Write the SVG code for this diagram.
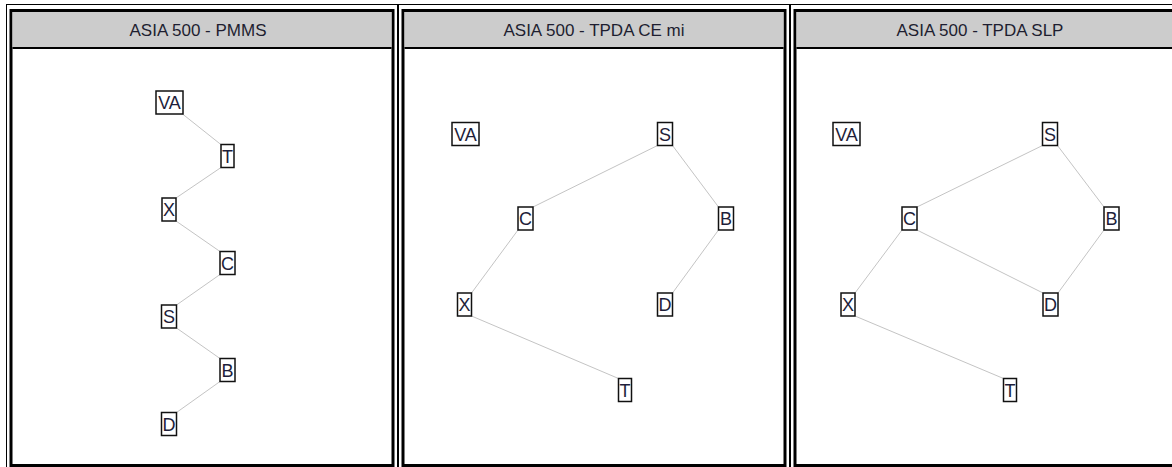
<svg xmlns="http://www.w3.org/2000/svg" width="1172" height="467" viewBox="0 0 1172 467">
<style>
.outer{fill:none;stroke:#000;stroke-width:1}
.inner{fill:#fff;stroke:#000;stroke-width:3}
.hdr{fill:#cccccc}
.hline{stroke:#000;stroke-width:2}
.title{font-family:"Liberation Sans",Arial,sans-serif;font-size:17px;fill:#1e1e30;text-anchor:middle}
.edge{stroke:#c4c4c4;stroke-width:1;fill:none}
.box{fill:#fff;stroke:#111;stroke-width:1.5}
.lbl{font-family:"Liberation Sans",Arial,sans-serif;font-size:18px;fill:#1e1e3a;text-anchor:middle}
</style>
<rect width="1172" height="467" fill="#fff"/>
<g id="panel1">
<rect class="outer" x="6.5" y="4.5" width="391" height="470"/>
<rect class="inner" x="11" y="10.5" width="382" height="455"/>
<rect class="hdr" x="12.5" y="12" width="379" height="35"/>
<line class="hline" x1="12.5" y1="48" x2="391.5" y2="48"/>
<text class="title" x="198" y="36">ASIA 500 - PMMS</text>
</g>
<g id="panel2">
<rect class="outer" x="398.5" y="4.5" width="391" height="470"/>
<rect class="inner" x="403" y="10.5" width="382" height="455"/>
<rect class="hdr" x="404.5" y="12" width="379" height="35"/>
<line class="hline" x1="404.5" y1="48" x2="783.5" y2="48"/>
<text class="title" x="594" y="36">ASIA 500 - TPDA CE mi</text>
</g>
<g id="panel3">
<rect class="outer" x="790.5" y="4.5" width="391" height="470"/>
<rect class="inner" x="795" y="10.5" width="382" height="455"/>
<rect class="hdr" x="796.5" y="12" width="379" height="35"/>
<line class="hline" x1="796.5" y1="48" x2="1175.5" y2="48"/>
<text class="title" x="980" y="36">ASIA 500 - TPDA SLP</text>
</g>
<g id="connectors">
<line class="edge" x1="180" y1="112" x2="221.5" y2="145"/>
<line class="edge" x1="221" y1="167.5" x2="176" y2="198"/>
<line class="edge" x1="176" y1="221" x2="220" y2="251.5"/>
<line class="edge" x1="220" y1="274.5" x2="176.5" y2="305"/>
<line class="edge" x1="176.5" y1="328" x2="220" y2="358.5"/>
<line class="edge" x1="220" y1="381.5" x2="176.5" y2="412.5"/>
<line class="edge" x1="657.5" y1="145.5" x2="533" y2="207"/>
<line class="edge" x1="672.5" y1="145.5" x2="718.5" y2="207"/>
<line class="edge" x1="518" y1="230" x2="471.5" y2="293"/>
<line class="edge" x1="718.5" y1="230" x2="672.5" y2="293"/>
<line class="edge" x1="471.5" y1="316" x2="618.5" y2="378.5"/>
<line class="edge" x1="1042.5" y1="145.5" x2="917" y2="207"/>
<line class="edge" x1="1057.5" y1="145.5" x2="1104" y2="207"/>
<line class="edge" x1="902" y1="230" x2="855" y2="293"/>
<line class="edge" x1="917" y1="230" x2="1043" y2="293"/>
<line class="edge" x1="1104" y1="230" x2="1058" y2="293"/>
<line class="edge" x1="855" y1="316" x2="1003.5" y2="378.5"/>
</g>
<g id="p1-VA"><rect class="box" x="156" y="91" width="27" height="23"/><text class="lbl" x="169.5" y="109">VA</text></g>
<g id="p1-T"><rect class="box" x="221" y="144.5" width="13" height="23"/><text class="lbl" x="227.5" y="162.5">T</text></g>
<g id="p1-X"><rect class="box" x="162" y="198" width="14" height="23"/><text class="lbl" x="169" y="216">X</text></g>
<g id="p1-C"><rect class="box" x="220" y="251.5" width="15" height="23"/><text class="lbl" x="227.5" y="269.5">C</text></g>
<g id="p1-S"><rect class="box" x="161.5" y="305" width="15" height="23"/><text class="lbl" x="169" y="323">S</text></g>
<g id="p1-B"><rect class="box" x="220" y="358.5" width="15" height="23"/><text class="lbl" x="227.5" y="376.5">B</text></g>
<g id="p1-D"><rect class="box" x="161.5" y="412.5" width="15" height="23"/><text class="lbl" x="169" y="430.5">D</text></g>
<g id="p2-VA"><rect class="box" x="452" y="122.5" width="27" height="23"/><text class="lbl" x="465.5" y="140.5">VA</text></g>
<g id="p2-S"><rect class="box" x="657.5" y="122.5" width="15" height="23"/><text class="lbl" x="665" y="140.5">S</text></g>
<g id="p2-C"><rect class="box" x="518" y="207" width="15" height="23"/><text class="lbl" x="525.5" y="225">C</text></g>
<g id="p2-B"><rect class="box" x="718.5" y="207" width="15" height="23"/><text class="lbl" x="726" y="225">B</text></g>
<g id="p2-X"><rect class="box" x="457.5" y="293" width="14" height="23"/><text class="lbl" x="464.5" y="311">X</text></g>
<g id="p2-D"><rect class="box" x="657.5" y="293" width="15" height="23"/><text class="lbl" x="665" y="311">D</text></g>
<g id="p2-T"><rect class="box" x="618.5" y="378.5" width="13" height="23"/><text class="lbl" x="625" y="396.5">T</text></g>
<g id="p3-VA"><rect class="box" x="833" y="122.5" width="27" height="23"/><text class="lbl" x="846.5" y="140.5">VA</text></g>
<g id="p3-S"><rect class="box" x="1042.5" y="122.5" width="15" height="23"/><text class="lbl" x="1050" y="140.5">S</text></g>
<g id="p3-C"><rect class="box" x="902" y="207" width="15" height="23"/><text class="lbl" x="909.5" y="225">C</text></g>
<g id="p3-B"><rect class="box" x="1104" y="207" width="15" height="23"/><text class="lbl" x="1111.5" y="225">B</text></g>
<g id="p3-X"><rect class="box" x="841" y="293" width="14" height="23"/><text class="lbl" x="848" y="311">X</text></g>
<g id="p3-D"><rect class="box" x="1043" y="293" width="15" height="23"/><text class="lbl" x="1050.5" y="311">D</text></g>
<g id="p3-T"><rect class="box" x="1003.5" y="378.5" width="13" height="23"/><text class="lbl" x="1010" y="396.5">T</text></g>
</svg>
